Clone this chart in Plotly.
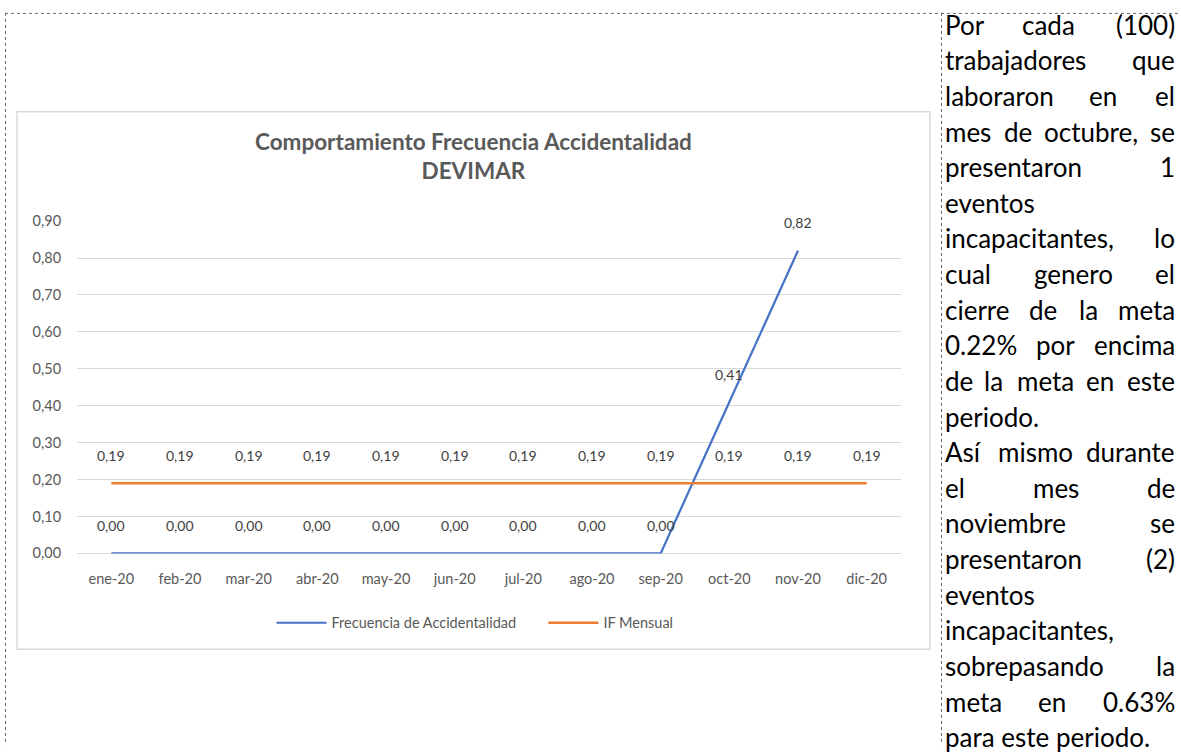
import plotly.graph_objects as go

W, H = 1181, 753

# datos del grafico
meses = ["ene-20", "feb-20", "mar-20", "abr-20", "may-20", "jun-20",
         "jul-20", "ago-20", "sep-20", "oct-20", "nov-20", "dic-20"]
frecuencia = [0.00, 0.00, 0.00, 0.00, 0.00, 0.00, 0.00, 0.00, 0.00, 0.41, 0.82, None]
if_mensual = [0.19, 0.19, 0.19, 0.19, 0.19, 0.19, 0.19, 0.19, 0.19, 0.19, 0.19, 0.19]

titulo = "Comportamiento Frecuencia Accidentalidad<br>DEVIMAR"
nombres = ["Frecuencia de Accidentalidad", "IF Mensual"]

# texto de la celda derecha (una entrada por renglon)
texto_lineas = [
    "Por cada (100)",
    "trabajadores que",
    "laboraron en el",
    "mes de octubre, se",
    "presentaron 1",
    "eventos",
    "incapacitantes, lo",
    "cual genero el",
    "cierre de la meta",
    "0.22% por encima",
    "de la meta en este",
    "periodo.",
    "Así mismo durante",
    "el mes de",
    "noviembre se",
    "presentaron (2)",
    "eventos",
    "incapacitantes,",
    "sobrepasando la",
    "meta en 0.63%",
    "para este periodo.",
]
fin_parrafo = {11, 20}

AZUL = "#4472C4"
NARANJA = "#ED7D31"
GRIS = "#595959"
FUENTE = "Lato"


def px(x):
    return x / W


def py(y):
    return 1 - y / H


def ancho(palabra, size):
    # ancho aproximado de una palabra (para justificar el texto)
    w = 0
    for c in palabra:
        if c in "ilj.,'í":
            w += 0.24
        elif c in "rtf()":
            w += 0.35
        elif c in "mw%":
            w += 0.8
        elif c.isdigit():
            w += 0.58
        elif c.isupper():
            w += 0.65
        else:
            w += 0.52
    return w * size


fig = go.Figure()

fig.add_trace(go.Scatter(
    x=meses, y=frecuencia, name=nombres[0] + "\u00a0" * 6, mode="lines",
    line=dict(color=AZUL, width=2.2), connectgaps=False,
))
fig.add_trace(go.Scatter(
    x=meses, y=if_mensual, name=nombres[1], mode="lines",
    line=dict(color=NARANJA, width=2.6),
))

annotations = []

# etiquetas de datos
for serie in (frecuencia, if_mensual):
    for m, v in zip(meses, serie):
        if v is None:
            continue
        annotations.append(dict(
            x=m, y=v, xref="x", yref="y", showarrow=False, yshift=28,
            text=f"{v:.2f}".replace(".", ","),
            font=dict(family=FUENTE, size=14, color="#404040"),
        ))

# titulo del grafico
annotations.append(dict(
    x=px(473), y=py(150), xref="paper", yref="paper", showarrow=False,
    text=f"<b>{titulo}</b>", align="center", yanchor="middle",
    font=dict(family=FUENTE, size=22.5, color=GRIS),
))

# texto justificado de la derecha
x_ini, x_fin = 943, 1177
size_txt = 26
for i, linea in enumerate(texto_lineas):
    yc = 16 + i * 36.45
    palabras = linea.split(" ")
    fnt = dict(family=FUENTE, size=size_txt, color="#000000")
    if i in fin_parrafo or len(palabras) == 1:
        annotations.append(dict(
            x=px(x_ini), y=py(yc), xref="paper", yref="paper", showarrow=False,
            text=linea, xanchor="left", yanchor="middle", font=fnt,
        ))
        continue
    anchos = [ancho(p, size_txt) for p in palabras]
    hueco = (x_fin - x_ini - sum(anchos)) / (len(palabras) - 1)
    pos = x_ini
    for k, (p, a) in enumerate(zip(palabras, anchos)):
        if k == 0:
            xa, anchor = x_ini, "left"
        elif k == len(palabras) - 1:
            xa, anchor = x_fin, "right"
        else:
            xa, anchor = pos + a / 2, "center"
        annotations.append(dict(
            x=px(xa), y=py(yc), xref="paper", yref="paper", showarrow=False,
            text=p, xanchor=anchor, yanchor="middle", font=fnt,
        ))
        pos += a + hueco

shapes = [
    # marco del grafico
    dict(type="rect", xref="paper", yref="paper",
         x0=px(17), x1=px(930), y0=py(655), y1=py(105),
         line=dict(color="#D9D9D9", width=1.5)),
    # bordes punteados de la tabla
    dict(type="line", xref="paper", yref="paper", x0=px(5), x1=1, y0=py(4.5), y1=py(4.5),
         line=dict(color="#666666", width=1, dash="dot")),
    dict(type="line", xref="paper", yref="paper", x0=px(5.5), x1=px(5.5), y0=py(4), y1=0,
         line=dict(color="#666666", width=1, dash="dot")),
    dict(type="line", xref="paper", yref="paper", x0=px(941.5), x1=px(941.5), y0=py(4), y1=0,
         line=dict(color="#666666", width=1, dash="dot")),
]

fig.update_layout(
    width=W, height=H,
    margin=dict(l=0, r=0, t=0, b=0),
    paper_bgcolor="white", plot_bgcolor="white",
    separators=",.",
    font=dict(family=FUENTE, size=14.5, color=GRIS),
    showlegend=True,
    legend=dict(orientation="h", x=px(475), xanchor="center", y=py(628), yanchor="middle",
                font=dict(family=FUENTE, size=14.5, color=GRIS), itemwidth=50),
    xaxis=dict(
        domain=[px(77), px(901)], type="category", range=[-0.5, 11.5],
        showgrid=False, showline=False, zeroline=False,
        ticks="outside", ticklen=12, tickcolor="rgba(0,0,0,0)",
        tickfont=dict(family=FUENTE, size=14.5, color=GRIS),
    ),
    yaxis=dict(
        domain=[py(557), py(217)], range=[0, 0.9], dtick=0.1, tickformat=".2f",
        showgrid=True, gridcolor="#D9D9D9", gridwidth=1,
        zeroline=True, zerolinecolor="#D9D9D9", zerolinewidth=1, showline=False,
        ticks="outside", ticklen=12, tickcolor="rgba(0,0,0,0)",
        tickfont=dict(family=FUENTE, size=14.5, color=GRIS),
    ),
    annotations=annotations,
    shapes=shapes,
)

# sin margen del body para que la figura ocupe toda la ventana
fig.write_html("out.html", config={"displayModeBar": False},
               post_script="document.body.style.margin='0';")
